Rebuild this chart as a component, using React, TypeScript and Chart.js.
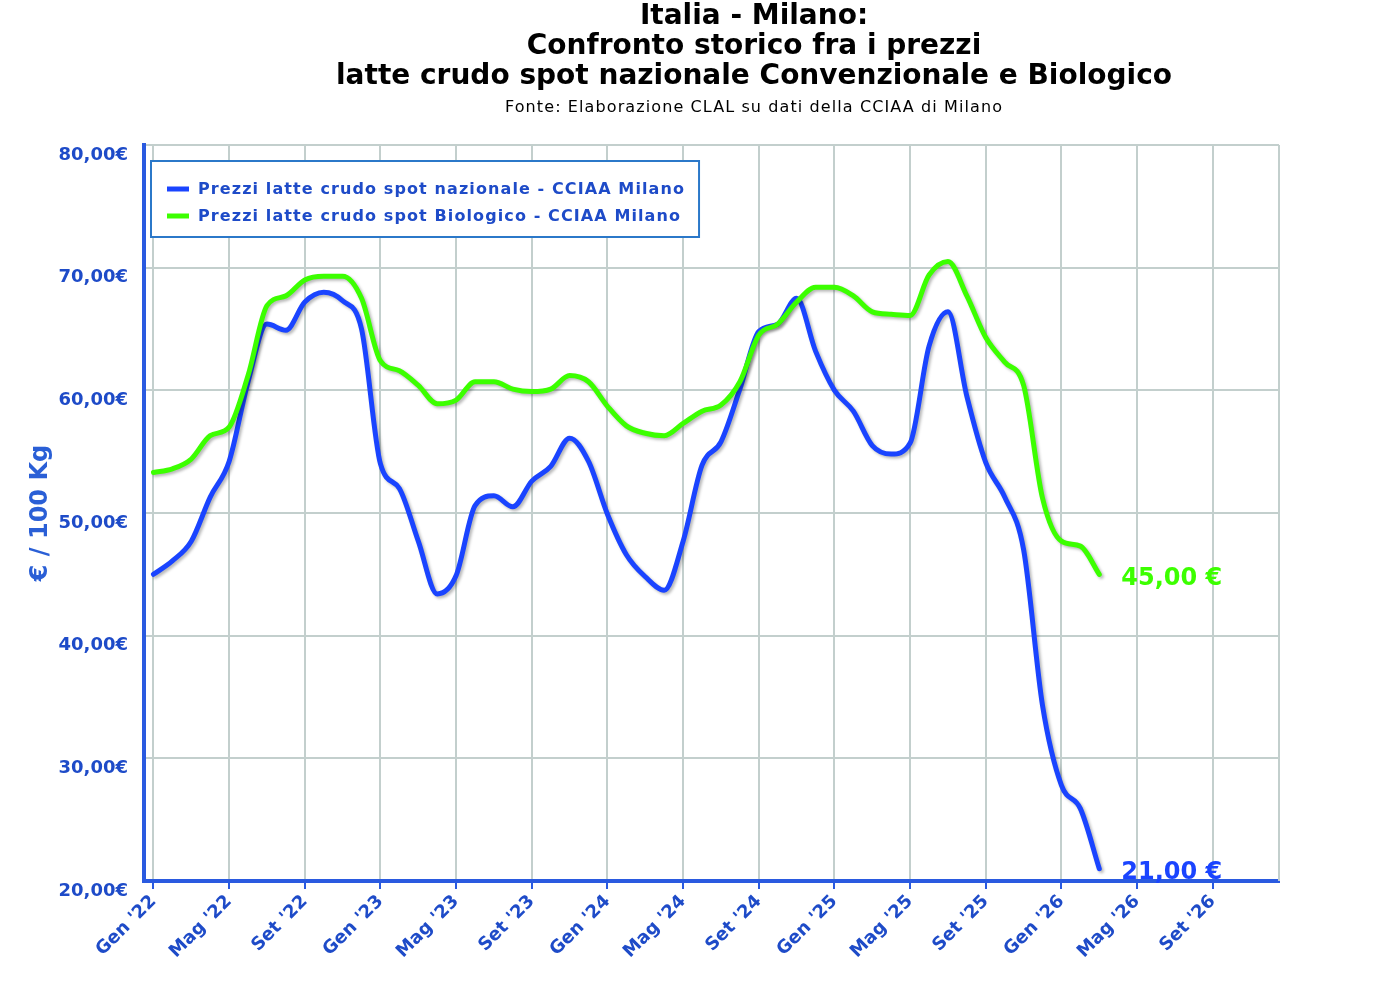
import React, { useEffect, useRef } from "react";
import { Chart, registerables } from "chart.js";

Chart.register(...registerables);

// month names used on the x axis (Italian)
const MONTHS = ["Gen", "Feb", "Mar", "Apr", "Mag", "Giu", "Lug", "Ago", "Set", "Ott", "Nov", "Dic"];
const FIRST_YEAR = 22; // Gen '22 = month index 0
const TICK_MONTHS = [0, 4, 8, 12, 16, 20, 24, 28, 32, 36, 40, 44, 48, 52, 56];

// €/100 kg, monthly Gen '22 -> Mar '26
const prezziNazionale = [
  45.0, 46.1, 47.7, 51.3, 54.2, 60.7, 65.4, 64.9, 67.2, 68.0, 67.3, 65.0,
  54.0, 52.0, 47.7, 43.4, 44.9, 50.6, 51.4, 50.5, 52.6, 53.8, 56.1, 54.2,
  49.9, 46.6, 44.8, 43.7, 47.7, 53.9, 55.8, 60.1, 64.8, 65.4, 67.5, 63.2,
  60.0, 58.3, 55.5, 54.8, 55.7, 63.6, 66.4, 59.5, 54.1, 51.3, 47.0, 34.3,
  27.8, 25.9, 21.0,
];
const prezziBiologico = [
  53.3, 53.6, 54.4, 56.3, 57.0, 61.2, 66.9, 67.7, 69.0, 69.3, 69.3, 67.5,
  62.4, 61.6, 60.4, 58.9, 59.2, 60.7, 60.7, 60.1, 59.9, 60.1, 61.2, 60.7,
  58.7, 57.1, 56.5, 56.3, 57.3, 58.3, 58.8, 60.7, 64.5, 65.4, 67.2, 68.4,
  68.4, 67.7, 66.4, 66.2, 66.1, 69.4, 70.5, 67.7, 64.3, 62.3, 60.4, 51.2,
  47.7, 47.3, 45.0,
];

const TITLE_LINES = [
  "Italia - Milano:",
  "Confronto storico fra i prezzi",
  "latte crudo spot nazionale Convenzionale e Biologico",
];
const SUBTITLE = "Fonte: Elaborazione CLAL su dati della CCIAA di Milano";

const BLUE = "#1a44ff";
const GREEN = "#3cff00";
const TEXT_BLUE = "#1e4bc8";
const AXIS_BLUE = "#2a5ae0";
const GRID = "#c3cfcd";
const FONT = "'DejaVu Sans', Verdana, sans-serif";

const euro = (v: number) => v.toFixed(2).replace(".", ",");
const monthLabel = (i: number) => `${MONTHS[i % 12]} '${FIRST_YEAR + Math.floor(i / 12)}`;

const titlePlugin = {
  id: "titles",
  afterDraw(chart: any) {
    const ctx = chart.ctx;
    const cx = 754;
    ctx.save();
    ctx.fillStyle = "#000";
    ctx.textAlign = "center";
    ctx.textBaseline = "alphabetic";
    ctx.font = `bold 28px ${FONT}`;
    TITLE_LINES.forEach((t, i) => ctx.fillText(t, cx, 24 + i * 30));
    ctx.font = `16px ${FONT}`;
    ctx.letterSpacing = "1.1px";
    ctx.fillText(SUBTITLE, cx, 112);
    ctx.restore();
  },
};

const framePlugin = {
  id: "frame",
  beforeDatasetsDraw(chart: any) {
    const { ctx, chartArea } = chart;
    ctx.save();
    ctx.strokeStyle = GRID;
    ctx.lineWidth = 2;
    ctx.beginPath();
    ctx.moveTo(chartArea.right, chartArea.top);
    ctx.lineTo(chartArea.right, chartArea.bottom);
    ctx.stroke();
    ctx.restore();
  },
};

const shadowPlugin = {
  id: "lineShadow",
  beforeDatasetDraw(chart: any) {
    const ctx = chart.ctx;
    ctx.save();
    ctx.shadowColor = "rgba(0,0,0,0.28)";
    ctx.shadowBlur = 3;
    ctx.shadowOffsetX = 2;
    ctx.shadowOffsetY = 2;
  },
  afterDatasetDraw(chart: any) {
    chart.ctx.restore();
  },
};

const endLabelPlugin = {
  id: "endLabels",
  afterDatasetsDraw(chart: any) {
    const ctx = chart.ctx;
    ctx.save();
    ctx.font = `bold 24px ${FONT}`;
    ctx.textAlign = "left";
    ctx.textBaseline = "middle";
    chart.data.datasets.forEach((ds: any, i: number) => {
      const meta = chart.getDatasetMeta(i);
      const last = meta.data[meta.data.length - 1];
      const value = ds.data[ds.data.length - 1].y;
      ctx.fillStyle = ds.borderColor;
      ctx.fillText(`${euro(value)} €`, last.x + 22, last.y + 4);
    });
    ctx.restore();
  },
};

const legendPlugin = {
  id: "boxLegend",
  afterDraw(chart: any) {
    const ctx = chart.ctx;
    const bx = 151, by = 161, rowH = 27;
    ctx.save();
    ctx.font = `bold 16px ${FONT}`;
    ctx.letterSpacing = "1.1px";
    const texts = chart.data.datasets.map((d: any) => d.label);
    const maxW = Math.max(...texts.map((t: string) => ctx.measureText(t).width));
    const w = 47 + maxW + 14;
    const h = 76;
    ctx.fillStyle = "#fff";
    ctx.fillRect(bx, by, w, h);
    ctx.strokeStyle = "#2b78c9";
    ctx.lineWidth = 2;
    ctx.strokeRect(bx, by, w, h);
    chart.data.datasets.forEach((d: any, i: number) => {
      const y = by + 28 + i * rowH;
      ctx.strokeStyle = d.borderColor;
      ctx.lineWidth = 5;
      ctx.beginPath();
      ctx.moveTo(bx + 16, y);
      ctx.lineTo(bx + 38, y);
      ctx.stroke();
      ctx.fillStyle = TEXT_BLUE;
      ctx.textBaseline = "middle";
      ctx.fillText(d.label, bx + 47, y + 1);
    });
    ctx.restore();
  },
};

export default function App() {
  const canvasRef = useRef<HTMLCanvasElement>(null);

  useEffect(() => {
    if (!canvasRef.current) return;
    const chart = new Chart(canvasRef.current, {
      type: "line",
      data: {
        datasets: [
          {
            label: "Prezzi latte crudo spot nazionale - CCIAA Milano",
            data: prezziNazionale.map((y, x) => ({ x, y })),
            borderColor: BLUE,
            backgroundColor: BLUE,
            borderWidth: 5,
            order: 1,
          },
          {
            label: "Prezzi latte crudo spot Biologico - CCIAA Milano",
            data: prezziBiologico.map((y, x) => ({ x, y })),
            borderColor: GREEN,
            backgroundColor: GREEN,
            borderWidth: 5,
            order: 0,
          },
        ],
      },
      options: {
        animation: false,
        responsive: true,
        maintainAspectRatio: false,
        layout: { padding: { top: 145, left: 0, right: 121, bottom: 0 } },
        elements: {
          point: { radius: 0, hoverRadius: 0 },
          line: { cubicInterpolationMode: "monotone", borderCapStyle: "round", borderJoinStyle: "round" },
        },
        plugins: {
          legend: { display: false },
          title: { display: false },
          tooltip: { enabled: false },
        },
        scales: {
          x: {
            type: "linear",
            min: -0.5,
            max: 59.5,
            afterBuildTicks: (scale: any) => {
              scale.ticks = TICK_MONTHS.map((value) => ({ value }));
            },
            afterFit: (scale: any) => {
              scale.height = 119;
              scale.paddingLeft = 0;
              scale.paddingRight = 0;
            },
            grid: {
              color: GRID,
              lineWidth: 2,
              drawTicks: true,
              tickLength: 8,
              tickColor: AXIS_BLUE,
              tickWidth: 2,
            },
            border: { color: AXIS_BLUE, width: 4 },
            ticks: {
              autoSkip: false,
              minRotation: 45,
              maxRotation: 45,
              padding: 2,
              color: TEXT_BLUE,
              font: { family: FONT, size: 18, weight: "bold" },
              callback: (v: any) => monthLabel(Number(v)),
            },
          },
          y: {
            min: 20,
            max: 80,
            afterFit: (scale: any) => {
              scale.width = 144;
            },
            grid: { color: GRID, lineWidth: 2, drawTicks: false },
            border: { color: AXIS_BLUE, width: 4 },
            ticks: {
              stepSize: 10,
              padding: 16,
              labelOffset: 10,
              color: TEXT_BLUE,
              font: { family: FONT, size: 18, weight: "bold" },
              callback: (v: any) => `${euro(Number(v))}€`,
            },
            title: {
              display: true,
              text: "€ / 100 Kg",
              color: "#2a5fd6",
              font: { family: FONT, size: 24, weight: "bold" },
              padding: { top: 26, bottom: 4 },
            },
          },
        },
      },
      plugins: [framePlugin, shadowPlugin, endLabelPlugin, legendPlugin, titlePlugin],
    });
    return () => chart.destroy();
  }, []);

  return (
    <div style={{ position: "absolute", left: 0, top: 0, width: 1400, height: 1000, background: "#fff" }}>
      <canvas ref={canvasRef} />
    </div>
  );
}
